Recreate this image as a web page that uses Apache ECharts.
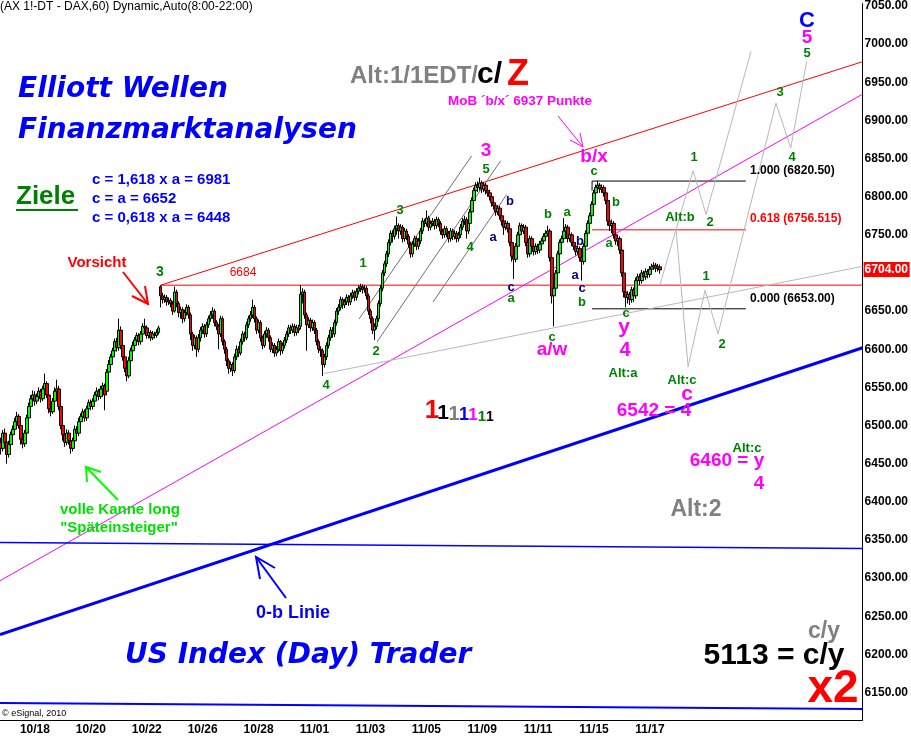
<!DOCTYPE html>
<html><head><meta charset="utf-8">
<script src="https://cdn.jsdelivr.net/npm/echarts@6/dist/echarts.min.js"></script>
<style>html,body{margin:0;padding:0;background:#fff}#c{width:911px;height:738px}</style>
</head><body><div id="c"></div><script>
// ---- data ----
const dateLabels = ['10/18','10/20','10/22','10/26','10/28','11/01','11/03','11/05','11/09','11/11','11/15','11/17'];
const yTicks = [6150,6200,6250,6300,6350,6400,6450,6500,6550,6600,6650,6700,6750,6800,6850,6900,6950,7000,7050];
// hourly candles [open, close, low, high]
const ohlc = [
[6478,6470,6462,6484],[6470,6490,6466,6494],[6490,6478,6474,6496],[6478,6462,6450,6482],[6462,6475,6458,6480],
[6475,6488,6470,6492],[6488,6495,6484,6500],[6495,6505,6490,6510],[6505,6512,6500,6518],[6512,6500,6496,6515],
[6500,6482,6475,6504],[6482,6476,6470,6486],[6476,6490,6472,6494],[6490,6510,6486,6514],[6510,6525,6505,6530],
[6525,6535,6520,6540],[6535,6540,6528,6546],[6540,6532,6526,6545],[6532,6538,6528,6542],[6538,6545,6533,6550],
[6545,6535,6530,6548],[6535,6548,6532,6552],[6548,6555,6544,6568],[6555,6540,6536,6558],[6540,6522,6516,6543],
[6522,6518,6512,6526],[6518,6532,6515,6536],[6532,6545,6528,6550],[6545,6548,6540,6560],[6548,6525,6520,6552],
[6525,6500,6495,6528],[6500,6488,6480,6504],[6488,6478,6472,6492],[6478,6490,6474,6495],[6490,6480,6475,6494],
[6480,6470,6463,6485],[6470,6480,6466,6484],[6480,6495,6476,6500],[6495,6490,6485,6499],[6490,6505,6486,6510],
[6505,6512,6500,6516],[6512,6518,6507,6522],[6518,6510,6505,6521],[6510,6522,6506,6526],[6522,6530,6518,6534],
[6530,6525,6520,6534],[6525,6532,6521,6536],[6532,6540,6528,6544],[6540,6545,6535,6550],[6545,6538,6533,6548],
[6538,6548,6535,6552],[6548,6552,6543,6556],[6552,6540,6520,6555],[6545,6570,6542,6574],[6570,6580,6566,6586],
[6580,6590,6576,6594],[6590,6598,6585,6602],[6598,6610,6594,6614],[6610,6602,6597,6615],[6602,6625,6598,6640],
[6625,6605,6600,6630],[6605,6590,6585,6608],[6590,6575,6570,6594],[6575,6565,6558,6580],[6565,6585,6562,6590],
[6585,6598,6580,6602],[6598,6605,6594,6610],[6605,6612,6600,6616],[6612,6618,6607,6622],[6618,6610,6605,6621],
[6610,6620,6606,6624],[6620,6630,6616,6634],[6630,6628,6620,6640],[6628,6618,6614,6631],[6618,6622,6614,6626],
[6622,6615,6611,6625],[6615,6620,6612,6624],[6620,6618,6614,6623],[6618,6622,6615,6626],[6622,6628,6619,6631],
[6682,6670,6655,6684],[6670,6665,6660,6674],[6665,6668,6661,6672],[6668,6662,6657,6671],[6662,6664,6658,6668],
[6664,6660,6655,6667],[6660,6650,6645,6663],[6650,6675,6648,6682],[6675,6660,6655,6678],[6660,6648,6642,6663],
[6648,6652,6640,6656],[6652,6640,6634,6655],[6640,6648,6636,6652],[6648,6655,6644,6659],[6655,6645,6640,6658],
[6645,6620,6612,6648],[6620,6605,6598,6623],[6605,6615,6600,6619],[6615,6600,6590,6618],[6600,6615,6596,6620],
[6615,6625,6610,6629],[6625,6630,6620,6634],[6630,6620,6615,6633],[6620,6632,6616,6636],[6632,6640,6628,6644],
[6640,6645,6636,6650],[6645,6650,6640,6655],[6650,6635,6630,6653],[6635,6630,6625,6638],[6630,6620,6600,6633],
[6620,6640,6616,6644],[6640,6610,6605,6643],[6610,6600,6594,6613],[6600,6585,6578,6603],[6585,6575,6568,6588],
[6575,6580,6570,6584],[6580,6572,6565,6583],[6572,6590,6569,6594],[6590,6600,6586,6605],[6600,6595,6590,6604],
[6595,6610,6592,6614],[6610,6620,6606,6624],[6620,6615,6610,6623],[6615,6632,6612,6636],[6632,6640,6628,6644],
[6640,6645,6636,6650],[6645,6655,6641,6665],[6655,6640,6635,6658],[6640,6625,6620,6643],[6625,6635,6621,6639],
[6635,6615,6610,6638],[6615,6605,6600,6618],[6605,6620,6602,6624],[6620,6625,6615,6629],[6625,6615,6610,6628],
[6615,6600,6596,6618],[6600,6605,6595,6609],[6605,6595,6590,6608],[6595,6600,6591,6604],[6600,6610,6596,6614],
[6610,6598,6592,6612],[6598,6605,6594,6609],[6605,6612,6601,6616],[6612,6620,6608,6624],[6620,6628,6616,6632],
[6628,6625,6620,6632],[6625,6630,6621,6634],[6630,6622,6617,6633],[6622,6628,6618,6632],[6628,6625,6621,6632],
[6630,6672,6626,6684],[6672,6675,6660,6680],[6675,6645,6640,6678],[6645,6632,6598,6648],[6632,6638,6628,6642],
[6638,6628,6623,6641],[6628,6635,6624,6639],[6635,6625,6620,6638],[6625,6610,6605,6628],[6610,6600,6595,6613],
[6600,6598,6590,6604],[6598,6580,6565,6601],[6580,6590,6576,6594],[6590,6605,6586,6609],[6605,6615,6601,6619],
[6615,6625,6611,6629],[6625,6620,6615,6629],[6620,6635,6616,6639],[6635,6650,6631,6654],[6650,6655,6645,6659],
[6655,6665,6651,6669],[6665,6658,6653,6668],[6658,6662,6654,6666],[6662,6668,6658,6672],[6668,6662,6657,6671],
[6662,6670,6658,6674],[6670,6674,6666,6678],[6674,6668,6663,6677],[6668,6676,6664,6680],[6676,6680,6672,6684],
[6680,6682,6675,6686],[6682,6678,6673,6685],[6678,6680,6674,6684],[6680,6670,6665,6683],[6670,6650,6645,6673],
[6650,6640,6634,6653],[6640,6625,6620,6643],[6625,6630,6612,6634],[6630,6640,6626,6644],[6640,6660,6636,6664],
[6660,6680,6656,6684],[6680,6700,6676,6704],[6700,6712,6696,6716],[6712,6725,6708,6729],[6725,6740,6721,6744],
[6740,6752,6736,6756],[6752,6748,6740,6756],[6748,6758,6744,6762],[6758,6762,6750,6774],[6762,6755,6745,6765],
[6755,6760,6750,6764],[6760,6745,6740,6763],[6745,6755,6741,6759],[6755,6748,6743,6758],[6748,6738,6733,6751],
[6738,6725,6720,6741],[6725,6738,6721,6742],[6738,6745,6734,6749],[6745,6735,6730,6748],[6735,6742,6731,6746],
[6742,6755,6738,6759],[6755,6768,6751,6772],[6768,6765,6760,6771],[6765,6772,6761,6782],[6772,6760,6755,6775],
[6760,6765,6756,6769],[6765,6768,6761,6772],[6768,6762,6757,6771],[6762,6770,6758,6774],[6770,6765,6760,6773],
[6765,6755,6750,6768],[6755,6750,6745,6758],[6750,6758,6746,6762],[6758,6752,6747,6761],[6752,6745,6740,6755],
[6745,6755,6741,6759],[6755,6748,6743,6758],[6748,6752,6744,6756],[6752,6745,6740,6755],[6745,6750,6741,6754],
[6750,6760,6746,6764],[6760,6768,6756,6772],[6768,6770,6763,6775],[6770,6755,6745,6773],[6755,6765,6751,6769],
[6765,6780,6761,6784],[6780,6795,6776,6799],[6795,6808,6791,6812],[6808,6815,6804,6819],[6815,6812,6806,6820],
[6812,6818,6808,6825],[6818,6810,6805,6821],[6810,6815,6806,6819],[6815,6808,6803,6818],[6808,6805,6800,6812],
[6805,6800,6795,6809],[6800,6792,6787,6803],[6792,6788,6783,6796],[6788,6780,6775,6791],[6780,6785,6776,6789],
[6785,6775,6770,6788],[6775,6768,6762,6778],[6768,6760,6750,6771],[6760,6765,6756,6769],[6765,6758,6753,6768],
[6758,6740,6735,6761],[6740,6722,6715,6743],[6722,6718,6692,6726],[6718,6735,6714,6739],[6735,6750,6731,6754],
[6750,6762,6746,6766],[6762,6755,6750,6765],[6755,6760,6751,6764],[6760,6740,6735,6763],[6740,6725,6720,6743],
[6725,6745,6721,6749],[6745,6735,6730,6748],[6735,6728,6723,6738],[6728,6735,6724,6739],[6735,6730,6725,6738],
[6730,6738,6726,6742],[6738,6742,6734,6746],[6742,6748,6738,6752],[6748,6752,6744,6756],[6752,6755,6748,6762],
[6755,6720,6715,6758],[6720,6670,6660,6722],[6670,6680,6630,6684],[6680,6700,6676,6704],[6700,6725,6696,6729],
[6725,6740,6721,6744],[6740,6745,6735,6749],[6745,6755,6741,6772],[6755,6760,6750,6764],[6760,6745,6740,6763],
[6745,6750,6741,6754],[6750,6740,6735,6753],[6740,6735,6730,6744],[6735,6728,6723,6738],[6728,6732,6724,6736],
[6732,6720,6715,6735],[6720,6715,6690,6724],[6715,6735,6711,6739],[6735,6752,6731,6756],[6752,6765,6748,6769],
[6765,6775,6761,6779],[6775,6790,6771,6794],[6790,6805,6786,6809],[6805,6812,6801,6816],[6812,6815,6806,6821],
[6815,6810,6805,6818],[6810,6812,6805,6816],[6812,6805,6800,6815],[6805,6795,6790,6808],[6795,6768,6762,6798],
[6768,6762,6755,6778],[6762,6765,6752,6770],[6765,6750,6745,6768],[6750,6742,6737,6753],[6742,6745,6735,6749],
[6745,6730,6725,6748],[6730,6700,6695,6733],[6700,6675,6668,6703],[6675,6668,6655,6678],[6668,6672,6660,6676],
[6672,6665,6658,6675],[6665,6678,6661,6682],[6678,6670,6662,6681],[6670,6690,6666,6694],[6690,6695,6685,6699],
[6695,6690,6684,6699],[6690,6700,6686,6704],[6700,6695,6690,6703],[6695,6702,6691,6706],[6702,6698,6693,6705],
[6698,6705,6694,6709],[6705,6708,6701,6712],[6708,6710,6704,6714],[6710,6706,6701,6713],[6706,6708,6702,6712],
[6708,6704,6699,6711]
];
// annotation lines, points as [bar index, price]
const upperRedLine = [[80,6684],[431.5,6977]];
const level6684 = [[80,6684],[431.5,6684]];
const fib618 = [[296,6756.515],[373,6756.515]];
const fib1000 = [[296,6808],[296,6820.5],[373,6820.5]];
const fib0 = [[296,6653],[373,6653]];
const magentaLine = [[-0.5,6296.5],[431.5,6934.4]];
const zeroBLine = [[-0.5,6226],[431.5,6602]];
const blueThinLine = [[-0.5,6346.7],[431.5,6338.9]];
const blueBottomLine = [[-0.5,6136.1],[431.5,6128.2]];
const grayBaseLine = [[161.8,6568],[431.5,6708.7]];
const channelA = [[179.3,6639.6],[235.7,6853.5]];
const channelB = [[188.3,6609.6],[250.2,6847]];
const channelC = [[216.3,6661.8],[253.2,6802.7]];
const projectionB = [[330.1,6685.3],[346.6,6834],[353.1,6776.6],[375.6,6990.5]];
const projectionA = [[338.1,6755.7],[344.1,6577],[352.6,6677.4],[359.1,6620],[388.1,6922.7],[395.5,6864],[403.5,6977.5]];

// ---- chart ----
const N = 432;
const cats = Array.from({length: N}, (_, i) => {
  const k = (i - 17) / 28;
  return (Number.isInteger(k) && k >= 0 && k < dateLabels.length) ? dateLabels[k] : String(i);
});
const lastClose = ohlc[ohlc.length - 1][1];
const AR = '"Liberation Sans", Arial, sans-serif';
const VD = '"DejaVu Sans", Verdana, sans-serif';

function lineSeries(pts, color, width) {
  return {type: 'line', xAxisIndex: 1, yAxisIndex: 0, data: pts, symbol: 'none', silent: true,
    animation: false, lineStyle: {color: color, width: width}, z: 3};
}
function T(x, y, text, color, font, align) {
  return {type: 'text', x: x, y: y, z: 100, silent: true,
    style: {text: text, fill: color, font: font, align: align || 'center', verticalAlign: 'middle'}};
}
function P(points, color, w) {
  return {type: 'polyline', z: 100, silent: true, shape: {points: points},
    style: {stroke: color, lineWidth: w, fill: null}};
}
const G = '#008000', NV = '#000080', MG = '#ff00ff';
const small = 'bold 13px ' + AR;
const graphics = [
  T(0, 7, '(AX 1!-DT - DAX,60) Dynamic,Auto(8:00-22:00)', '#000', '12px ' + AR, 'left'),
  T(18, 90, 'Elliott Wellen', '#0000ff', 'italic bold 28px ' + VD, 'left'),
  T(18, 131, 'Finanzmarktanalysen', '#0000ff', 'italic bold 28px ' + VD, 'left'),
  T(16, 197, 'Ziele', G, 'bold 26px ' + AR, 'left'),
  {type: 'rect', z: 100, shape: {x: 16, y: 209, width: 62, height: 2}, style: {fill: G}},
  T(92, 180, 'c = 1,618 x a = 6981', '#0000ff', 'bold 15px ' + AR, 'left'),
  T(92, 199, 'c = a = 6652', '#0000ff', 'bold 15px ' + AR, 'left'),
  T(92, 218, 'c = 0,618 x a = 6448', '#0000ff', 'bold 15px ' + AR, 'left'),
  T(350, 76, 'Alt:1/1EDT/', '#808080', 'bold 24px ' + AR, 'left'),
  T(477, 75, 'c/', '#000', 'bold 30px ' + AR, 'left'),
  T(507, 75, 'Z', '#ff0000', 'bold 36px ' + AR, 'left'),
  T(448, 101, 'MoB \u00b4b/x\u00b4 6937 Punkte', MG, 'bold 13.5px ' + AR, 'left'),
  T(97, 263, 'Vorsicht', '#ff0000', 'bold 15px ' + AR),
  T(243, 273, '6684', '#ff0000', '12px ' + AR),
  T(120, 510, 'volle Kanne long', '#00e000', 'bold 15px ' + AR),
  T(119, 528, '"Sp\u00e4teinsteiger"', '#00e000', 'bold 15px ' + AR),
  T(293, 613, '0-b Linie', '#0000ff', 'bold 18px ' + AR),
  T(125, 656, 'US Index (Day) Trader', '#0000ff', 'italic bold 28px ' + VD, 'left'),
  T(2, 714, '\u00a9 eSignal, 2010', '#000', '9px ' + AR, 'left'),
  // fib labels
  T(750, 171, '1.000 (6820.50)', '#000', 'bold 12px ' + AR, 'left'),
  T(750, 219, '0.618 (6756.515)', '#ff0000', 'bold 12px ' + AR, 'left'),
  T(750, 299, '0.000 (6653.00)', '#000', 'bold 12px ' + AR, 'left'),
  // green wave labels
  T(160, 272, '3', G, 'bold 14px ' + AR), T(363, 263, '1', G, small), T(376, 351, '2', G, small),
  T(326, 385, '4', G, small), T(400, 210, '3', G, small), T(470, 247, '4', G, small),
  T(486, 169, '5', G, small), T(548, 214, 'b', G, small), T(567, 212, 'a', G, small),
  T(511, 298, 'a', G, small), T(552, 337, 'c', G, small), T(594, 171, 'c', G, small),
  T(582, 302, 'b', G, small), T(616, 202, 'b', G, small), T(609, 243, 'a', G, small),
  T(626, 313, 'c', G, small), T(623, 373, 'Alt:a', G, small), T(680, 217, 'Alt:b', G, small),
  T(694, 157, '1', G, small), T(710, 222, '2', G, small), T(682, 380, 'Alt:c', G, small),
  T(706, 276, '1', G, small), T(722, 344, '2', G, small), T(747, 448, 'Alt:c', G, small),
  T(780, 92, '3', G, small), T(792, 157, '4', G, small), T(807, 53, '5', G, small),
  // navy labels
  T(510, 201, 'b', NV, small), T(493, 237, 'a', NV, small), T(511, 287, 'c', NV, small),
  T(580, 241, 'b', NV, small), T(575, 275, 'a', NV, small), T(582, 288, 'c', NV, small),
  // magenta labels
  T(486, 151, '3', MG, 'bold 19px ' + AR), T(594, 157, 'b/x', MG, 'bold 19px ' + AR),
  T(552, 350, 'a/w', MG, 'bold 19px ' + AR), T(624, 327, 'y', MG, 'bold 21px ' + AR),
  T(625, 350, '4', MG, 'bold 20px ' + AR), T(687, 394, 'c', MG, 'bold 21px ' + AR),
  T(654, 411, '6542 = 4', MG, 'bold 19px ' + AR), T(727, 461, '6460 = y', MG, 'bold 19px ' + AR),
  T(759, 484, '4', MG, 'bold 19px ' + AR), T(807, 38, '5', MG, 'bold 19px ' + AR),
  T(807, 21, 'C', '#0000ff', 'bold 22px ' + AR),
  T(696, 510, 'Alt:2', '#808080', 'bold 23px ' + AR),
  T(824, 632, 'c/y', '#808080', 'bold 23px ' + AR),
  T(774, 656, '5113 = c/y', '#000', 'bold 30px ' + AR),
  T(833, 689, 'x2', '#ff0000', 'bold 46px ' + AR),
  // colored ones
  {type: 'text', x: 432, y: 424, z: 100, style: {text: '1', fill: '#ff0000', font: 'bold 26px ' + AR, align: 'center', verticalAlign: 'bottom'}},
  {type: 'text', x: 443, y: 424, z: 100, style: {text: '1', fill: '#000', font: 'bold 21px ' + AR, align: 'center', verticalAlign: 'bottom'}},
  {type: 'text', x: 454, y: 424, z: 100, style: {text: '1', fill: '#808080', font: 'bold 20px ' + AR, align: 'center', verticalAlign: 'bottom'}},
  {type: 'text', x: 464, y: 424, z: 100, style: {text: '1', fill: '#0000ff', font: 'bold 18px ' + AR, align: 'center', verticalAlign: 'bottom'}},
  {type: 'text', x: 473, y: 424, z: 100, style: {text: '1', fill: '#ff00ff', font: 'bold 17px ' + AR, align: 'center', verticalAlign: 'bottom'}},
  {type: 'text', x: 482, y: 424, z: 100, style: {text: '1', fill: '#008000', font: 'bold 15px ' + AR, align: 'center', verticalAlign: 'bottom'}},
  {type: 'text', x: 490, y: 424, z: 100, style: {text: '1', fill: '#000', font: 'bold 14px ' + AR, align: 'center', verticalAlign: 'bottom'}},
  // arrows
  P([[123,272],[148,304]], '#ff0000', 2), P([[132,296],[148,304],[145,286]], '#ff0000', 2),
  P([[118,500],[86,467]], '#00ff00', 2), P([[87,482],[86,467],[101,472]], '#00ff00', 2),
  P([[286,598],[256,557]], '#0000ff', 2), P([[260,579],[256,557],[275,568]], '#0000ff', 2),
  P([[558,116],[583,147]], MG, 1), P([[570,140],[583,147],[580,133]], MG, 1)
];

const chart = echarts.init(document.getElementById('c'), null, {renderer: 'canvas'});
chart.setOption({
  animation: false,
  backgroundColor: '#fff',
  grid: {left: 0, right: 46, top: 0, bottom: 18, containLabel: false},
  xAxis: [
    {type: 'category', data: cats, boundaryGap: true,
      axisLine: {onZero: false, lineStyle: {color: '#000', width: 1}}, axisTick: {show: false},
      axisLabel: {interval: (idx, val) => dateLabels.includes(val), color: '#000', fontWeight: 'bold',
        fontSize: 12, fontFamily: 'Liberation Sans', margin: 4},
      splitLine: {show: false}},
    {type: 'value', min: -0.5, max: N - 0.5, show: false, splitLine: {show: false},
      axisLine: {onZero: false}}
  ],
  yAxis: {type: 'value', position: 'right', min: 6113.9, max: 7053.1, scale: true,
    axisLine: {show: true, onZero: false, lineStyle: {color: '#000', width: 1}}, axisTick: {show: false},
    splitLine: {show: false},
    axisLabel: {customValues: yTicks, formatter: v => Number(v).toFixed(2), color: '#000',
      fontWeight: 'bold', fontSize: 12, fontFamily: 'Liberation Sans', margin: 2}},
  series: [
    lineSeries(upperRedLine, '#ff0000', 1),
    lineSeries(level6684, '#ff0000', 1),
    lineSeries(fib618, '#ff0000', 1),
    lineSeries(fib1000, '#000000', 1),
    lineSeries(fib0, '#000000', 1),
    lineSeries(magentaLine, '#ff00ff', 1),
    lineSeries(zeroBLine, '#0000ff', 3),
    lineSeries(blueThinLine, '#0000ff', 1.5),
    lineSeries(blueBottomLine, '#0000ff', 2),
    lineSeries(grayBaseLine, '#b8b8b8', 1),
    lineSeries(channelA, '#707070', 1),
    lineSeries(channelB, '#707070', 1),
    lineSeries(channelC, '#707070', 1),
    lineSeries(projectionB, '#b8b8b8', 1),
    lineSeries(projectionA, '#b8b8b8', 1),
    {type: 'candlestick', xAxisIndex: 0, yAxisIndex: 0, data: ohlc, barWidth: 3, z: 5,
      itemStyle: {color: '#00ff00', color0: '#ff0000', borderColor: '#000', borderColor0: '#000', borderWidth: 1}}
  ],
  graphic: graphics
});
// current price tag on the right axis, positioned through the y scale
const tagY = chart.convertToPixel({yAxisIndex: 0}, lastClose);
const axisX = chart.convertToPixel({xAxisIndex: 1}, N - 0.5);
chart.setOption({graphic: graphics.concat([
  {type: 'rect', z: 200, shape: {x: axisX + 1, y: tagY - 8, width: 46, height: 15}, style: {fill: '#ff0000'}},
  {type: 'text', z: 201, x: axisX + 2, y: tagY, style: {text: lastClose.toFixed(2), fill: '#fff',
    font: 'bold 12px ' + AR, align: 'left', verticalAlign: 'middle'}}
])});
</script></body></html>
